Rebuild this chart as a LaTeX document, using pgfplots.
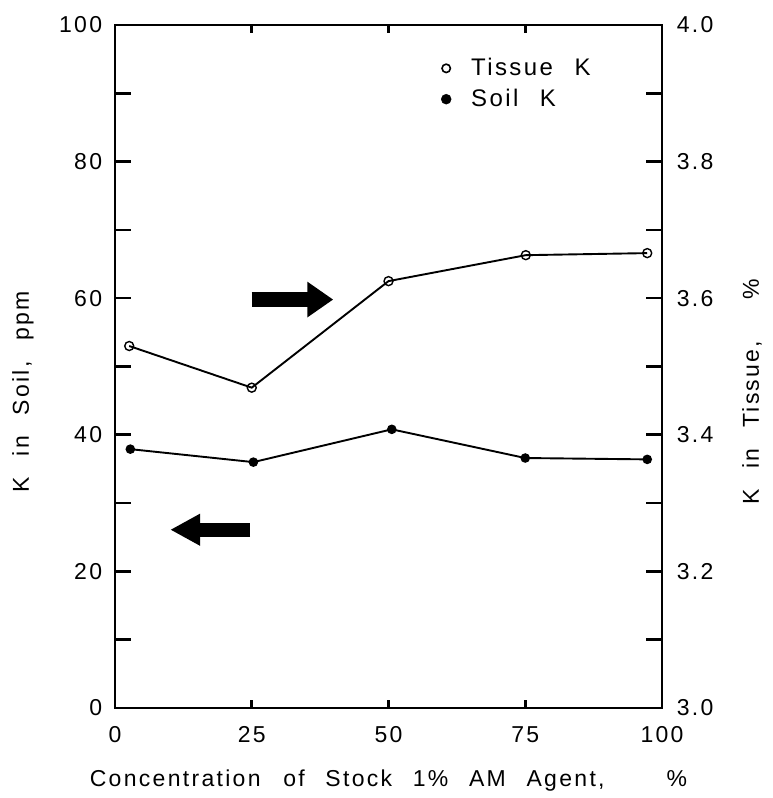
\documentclass[border=0pt]{standalone}
\usepackage{fontspec}
\setmainfont[LetterSpace=10]{Liberation Sans}
\usepackage{pgfplots}
\pgfplotsset{compat=1.18}
\usetikzlibrary{arrows.meta}
\newcommand{\ws}{\hspace{0.9em}}
\begin{document}
\fontsize{23}{27}\selectfont
\begin{tikzpicture}
\pgfplotsset{
  common/.style={
    width=547pt, height=683pt, scale only axis,
    at={(0,0)}, anchor=south west,
    xmin=0, xmax=100,
    axis line style={line width=2.4pt},
    tick style={line width=2.6pt, black},
    tick align=inside,
    /pgf/number format/assume math mode=true,
    tick label style={font=\fontsize{23}{27}\selectfont},
    label style={font=\fontsize{23}{27}\selectfont},
  }
}
% axis 1: left y axis, soil K, x tick labels and x label
\begin{axis}[common, name=ax,
  ymin=0, ymax=100,
  ytick={0,10,...,100}, yticklabels={0,,20,,40,,60,,80,,100},
  ytick pos=left,
  major tick length=16pt,
  xtick={0,25,50,75,100}, xticklabels={0,25,50,75,100},
  xtick style={draw=none},
  yticklabel style={anchor=east, xshift=-5pt},
  xticklabel style={anchor=center, yshift=-27pt},
  xlabel={Concentration\ws\hspace{2pt}of\ws Stock\ws 1\%\ws AM\ws Agent,\ws\ws\ws \%},
  xlabel style={at={([yshift=-73pt]rel axis cs:0.5,0)}, anchor=center},
  ylabel={K\ws in\ws Soil,\ws ppm},
  ylabel style={at={([xshift=-92pt]rel axis cs:0,0.463)}, anchor=center},
]
\addplot[black, line width=1.9pt, mark=*, mark size=3.8pt] coordinates {
  (2.8,37.9) (25.3,36.0) (50.6,40.8) (75,36.6) (97.3,36.4)
};
\draw[black, line width=15pt, -{Triangle[length=26pt,width=34pt]}]
  (axis cs:25.0,59.8) -- (axis cs:39.9,59.8);
\draw[black, line width=14pt, -{Triangle[length=30pt,width=30pt]}]
  (axis cs:24.7,26.1) -- (axis cs:10.1,26.1);
\end{axis}
% axis 2: short x ticks top and bottom
\begin{axis}[common,
  ymin=0, ymax=100, ytick=\empty,
  xtick={25,50,75}, xticklabels={},
  major tick length=8pt,
]
\end{axis}
% axis 3: right y axis, tissue K
\begin{axis}[common,
  ymin=3, ymax=4,
  axis y line*=right, axis x line=none,
  ytick={3.0,3.1,...,4.0},
  yticklabels={3.0,,3.2,,3.4,,3.6,,3.8,,4.0},
  major tick length=16pt,
  yticklabel style={anchor=west, xshift=7pt},
  ylabel={K\ws in\ws Tissue,\ws\ws \%},
  ylabel style={at={([xshift=90pt]rel axis cs:1,0.463)}, anchor=center},
  legend style={at={(rel axis cs:0.596,0.955)}, anchor=north west, draw=none, fill=none,
    inner sep=0pt, font=\fontsize{24}{28}\selectfont, row sep=6pt},
  legend image code/.code={\draw[#1] plot coordinates {(0pt,0pt)};},
  legend cell align=left,
]
\addplot[black, line width=1.9pt, mark=o, mark size=4.5pt, mark options={fill=white, line width=1.4pt}, forget plot] coordinates {
  (2.6,3.530) (25,3.469) (50,3.625) (75.1,3.663) (97.3,3.666)
};
\addlegendimage{only marks, black, mark=o, mark size=4.2pt, mark options={line width=1.6pt}}
\addlegendentry{\hspace{18pt}Tissue\ws K}
\addlegendimage{only marks, black, mark=*, mark size=5pt}
\addlegendentry{\hspace{18pt}Soil\ws K}
\end{axis}
\pgfresetboundingbox
\path[use as bounding box] ([shift={(-115pt,-90pt)}]ax.south west) rectangle ([shift={(111pt,25pt)}]ax.north east);
\end{tikzpicture}
\end{document}
